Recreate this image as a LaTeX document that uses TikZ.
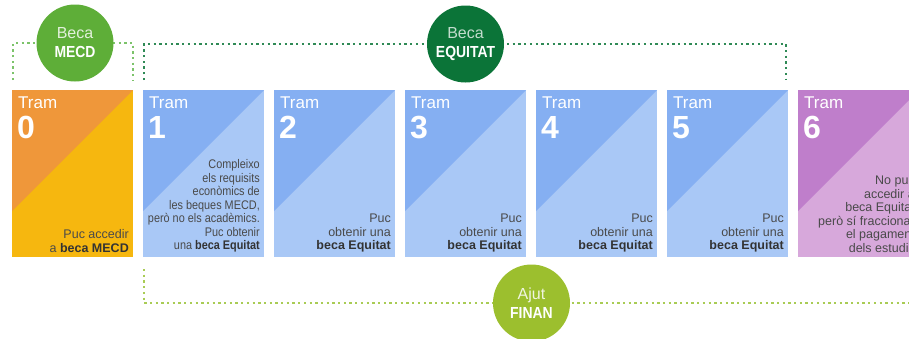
\documentclass[tikz,border=0pt]{standalone}
\usepackage{fontspec}
\setmainfont{Liberation Sans}
\newfontfamily\condfont[FakeStretch=0.87]{Liberation Sans}
\usetikzlibrary{calc}
\definecolor{orangetop}{HTML}{EF973A}
\definecolor{yellowbot}{HTML}{F6B70F}
\definecolor{bluetop}{HTML}{85AFF2}
\definecolor{bluebot}{HTML}{A9C8F6}
\definecolor{purpletop}{HTML}{BF7ECB}
\definecolor{purplebot}{HTML}{D7A8DB}
\definecolor{mecdgreen}{HTML}{5EAE38}
\definecolor{mecddot}{HTML}{7CC36A}
\definecolor{equigreen}{HTML}{0B7438}
\definecolor{equidot}{HTML}{2F8A56}
\definecolor{finangreen}{HTML}{9CBF2E}
\definecolor{finandot}{HTML}{A9CC55}
\definecolor{txtgray}{HTML}{4A4A4A}
\definecolor{txtdark}{HTML}{333333}
\newcommand{\tramcard}[6]{%
  \node[cardbox, fill=#3] (#1) at (#2,90) {};
  \fill[#4] (#1.north west) -- (#1.north east) -- ($(#1.north west)+(0,121)$) -- cycle;
  \node[tramlbl] (#1-t) at ($(#1.north west)+(6,18)$) {Tram};
  \node[tramnum] (#1-n) at ($(#1.north west)+(5,48)$) {#5};
  \node[cardtxt] (#1-d) at ($(#1.south east)+(-4,-4.5)$) {#6};
}
\newcommand{\bk}[1]{{\bfseries\color{txtdark}#1}}
\begin{document}
\begin{tikzpicture}[x=1pt,y=-1pt,
  cardbox/.style={rectangle, inner sep=0, outer sep=0, minimum width=121pt, minimum height=167pt, anchor=north west},
  tramlbl/.style={anchor=base west, inner sep=0, text=white, font=\fontsize{17}{17}\selectfont},
  tramnum/.style={anchor=base west, inner sep=0, text=white, font=\fontsize{32}{32}\selectfont\bfseries},
  cardtxt/.style={anchor=south east, inner sep=0, align=right, text=txtgray, font=\fontsize{12.5}{13.5}\selectfont},
  circ/.style={circle, inner sep=0, minimum size=77pt, align=center, text=white, font=\fontsize{16}{19}\selectfont},
  dotline/.style={line width=2.5pt, dash pattern=on 2.3pt off 3.4pt}
]
\useasboundingbox (0,0) rectangle (909,338);
\clip (0,0) rectangle (909,338);

\tramcard{b0}{12}{yellowbot}{orangetop}{0}{Puc accedir\\a \bk{beca MECD}}
\tramcard{b1}{143}{bluebot}{bluetop}{1}{\condfont Compleixo\\\condfont els requisits\\\condfont econòmics de\\\condfont les beques MECD,\\\condfont però no els acadèmics.\\\condfont Puc obtenir\\\condfont una \bk{beca Equitat}}
\tramcard{b2}{274}{bluebot}{bluetop}{2}{Puc\\obtenir una\\\bk{beca Equitat}}
\tramcard{b3}{405}{bluebot}{bluetop}{3}{Puc\\obtenir una\\\bk{beca Equitat}}
\tramcard{b4}{536}{bluebot}{bluetop}{4}{Puc\\obtenir una\\\bk{beca Equitat}}
\tramcard{b5}{667}{bluebot}{bluetop}{5}{Puc\\obtenir una\\\bk{beca Equitat}}
\tramcard{b6}{798}{purplebot}{purpletop}{6}{No puc\\accedir a\\beca Equitat\\però sí fraccionar\\el pagament\\dels estudis}

% circle positions (drawn after the brackets)
\coordinate (mecdc) at (75,43);
\coordinate (equic) at (465.5,44);
\coordinate (financ) at (531.5,303);
\coordinate (finanend) at (920,303);

\draw[dotline, mecddot] ($(b0.north west)+(1,-10)$) |- (mecdc) -| ($(b0.north east)+(0,-10)$);
\draw[dotline, equidot] ($(b1.north west)+(1,-10)$) |- (equic) -| ($(b5.north east)+(-2,-10)$);
\draw[dotline, finandot] ($(b1.south west)+(1,12)$) |- (finanend);

\node[circ, fill=mecdgreen] (mecd) at (mecdc) {{\color{white!82!mecdgreen}Beca}\\{\condfont\bfseries MECD}};
\node[circ, fill=equigreen] (equitat) at (equic) {{\color{white!75!equigreen}Beca}\\{\condfont\bfseries EQUITAT}};
\node[circ, fill=finangreen] (finan) at (financ) {{\color{white!85!finangreen}Ajut}\\{\condfont\bfseries FINAN}};
\end{tikzpicture}
\end{document}
